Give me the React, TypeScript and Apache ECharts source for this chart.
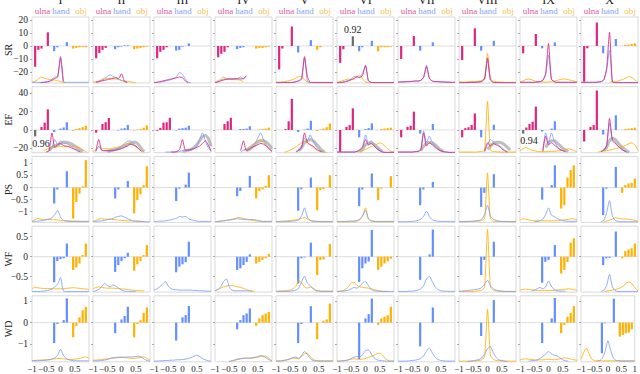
import React, { useEffect, useRef } from 'react';
import * as echarts from 'echarts';

const n = null;
type V = number | null;
type Curve = V[] | null;

const COLUMNS = ['I', 'II', 'III', 'IV', 'V', 'VI', 'VII', 'VIII', 'IX', 'X'];
const ROWS = ['SR', 'EF', 'PS', 'WF', 'WD'];
const GROUPS = ['ulna', 'hand', 'obj'];
const COLORS = ['#DC267F', '#648FFF', '#FFB000'];
const LABEL_COLORS = ['#E2599C', '#86A4F6', '#F6C24E'];
const GRAY = '#6a6a6a';
// bar slots in ninths: ulna -8..-4, hand -2..2, obj 4..8
const BAR_SLOTS = [-8, -7, -6, -5, -4, -2, -1, 0, 1, 2, 4, 5, 6, 7, 8];
const CURVE_X = [-1, -0.9, -0.8, -0.7, -0.6, -0.5, -0.4, -0.3, -0.2, -0.1, 0, 0.1, 0.2, 0.3, 0.4, 0.5, 0.6, 0.7, 0.8, 0.9, 1];
const X_TICKS = [-1, -0.5, 0, 0.5];
const X_TICKS_LAST = [-1, -0.5, 0, 0.5, 1];
const Y_MIN = [-28.5, -24.8, -1.44, -0.885, -1.82];
const Y_MAX = [22.3, 47.2, 1.285, 0.765, 1.25];
const Y_TICKS = [[-20, -10, 0, 10, 20], [-20, 0, 20, 40], [-1, -0.5, 0, 0.5, 1], [-0.5, 0, 0.5], [-1, 0, 1]];

// ---------- bar values (ulna x5, hand x5, obj x5) ----------
const SR_BARS: V[][] = [
  [-16, -3, -2, n, 10.5, -4, -1, n, n, 3, -2, -1.5, -1, -1, -1],
  [-9.5, -5.5, -3, -1.5, n, -2.5, -1, -0.5, 0.5, 0.5, -2.5, -2, -1.5, -1, -0.5],
  [-9.5, -4.5, -3, -1, n, -3.5, -3, -0.5, n, 2, n, n, n, n, n],
  [-8.7, -6, -4.5, -1, n, -2.5, -1.5, -1, n, n, -2, -1.5, -1.5, -1, -0.5],
  [-18, -2, n, n, 15, -5, n, n, n, 4.5, -3, -1, n, n, n],
  [-13, -2.5, n, n, n, -4, -1, n, n, 4, -4, -1, -1, -1, -0.5],
  [-10, n, n, n, 7.7, -3.6, n, n, n, 2.8, n, n, n, n, n],
  [-10.8, n, n, n, 13.6, -3.6, n, n, n, 4, n, n, n, n, n],
  [-5.6, n, n, n, 9.2, -1.8, n, n, n, 2.8, n, n, n, n, n],
  [-27.5, -1.8, n, n, 18, -5.6, n, n, n, 5.4, n, 1, 1, 1.5, 2],
];
const EF_BARS: V[][] = [
  [n, n, 3.4, 8, 22.5, -2.3, n, 1.5, 2.7, 8.4, -1, 1, 2, 3, 4.6],
  [-3, n, 6.5, 8.5, 13, n, -0.5, 1.5, 2, 5.3, -0.5, 0.5, 1, 2.5, 5],
  [-1, 2.3, 8, 8.4, 13.3, -0.5, 1.5, 2, 2.5, 4.6, n, n, n, n, n],
  [n, n, 6.5, 9.5, 13.3, n, 1, 1, 1.5, 4, n, 0.5, 1, 1.5, 2.5],
  [n, n, 1, 9.5, 34, -2.3, n, 0.5, 1.5, 10, -1, 0.5, 1.5, 3, 7],
  [-24, n, 3.4, 5.3, 23.6, -8, n, 1, 2, 7.2, n, 1, 1.5, 2, 2.5],
  [-8, n, 3.4, 4.6, 20, -4, n, n, n, 6.5, n, n, n, n, n],
  [-8, 2, 3, 5.5, 18, -8, n, n, n, 5.7, n, n, n, n, n],
  [n, 2.7, 6.5, 9, 25.5, -1.7, n, n, 1.5, 9.5, n, n, n, n, n],
  [-12.6, n, 3.4, 5.3, 43, -5, n, n, n, 16, n, 1, 1.5, 2, 2.5],
];
const PS_BARS: V[][] = [
  [n, n, n, n, n, -0.66, -0.08, n, n, 0.67, -1.28, -0.6, -0.25, 0.05, 1.13],
  [n, n, n, n, n, -0.45, -0.08, n, n, 0.27, -1.07, -0.52, -0.28, 0.1, 0.88],
  [n, n, n, n, n, -0.56, -0.05, n, 0.12, 0.62, n, n, n, n, n],
  [n, n, n, n, n, -0.36, -0.14, n, n, 0.48, -0.45, -0.15, -0.08, 0.07, 0.51],
  [n, n, n, n, n, -0.96, -0.07, n, n, 0.41, -0.94, -0.11, -0.07, n, 0.51],
  [n, n, n, n, n, -0.77, -0.08, n, n, 0.58, -0.52, -0.05, n, n, 0.47],
  [n, n, n, n, n, -0.73, -0.08, n, n, 0.23, n, n, n, n, n],
  [n, n, n, n, n, -0.8, -0.22, n, n, 0.55, n, n, n, n, n],
  [n, n, n, n, n, -0.5, n, n, 0.1, 0.92, -0.87, -0.73, 0.41, 0.72, 0.92],
  [n, n, n, n, n, -1.14, -0.05, n, n, 0.85, -0.22, 0.1, 0.17, 0.19, 0.37],
];
const WF_BARS: V[][] = [
  [n, n, n, n, n, -0.64, -0.11, -0.06, -0.04, 0.33, -0.33, -0.27, -0.17, 0.04, 0.33],
  [n, n, n, n, n, -0.38, -0.21, -0.11, -0.04, 0.1, -0.35, -0.19, -0.11, 0.04, 0.29],
  [n, n, n, n, n, -0.39, -0.25, -0.19, -0.14, 0.375, n, n, n, n, n],
  [n, n, n, n, n, -0.33, -0.29, -0.21, -0.13, 0.06, -0.17, -0.13, -0.08, -0.04, 0.07],
  [n, n, n, n, n, -0.67, -0.04, -0.02, n, 0.35, -0.46, -0.08, -0.07, n, 0.32],
  [n, n, n, n, n, -0.63, -0.29, -0.17, -0.12, 0.67, -0.33, -0.25, -0.17, -0.12, -0.05],
  [n, n, n, n, n, -0.58, n, n, 0.06, 0.68, n, n, n, n, n],
  [n, n, n, n, n, -0.46, -0.08, n, n, 0.375, n, n, n, n, n],
  [n, n, n, n, n, -0.65, -0.13, -0.08, n, 0.29, -0.42, -0.33, -0.13, 0.35, 0.46],
  [n, n, n, n, n, -0.21, -0.04, -0.03, n, 0.63, -0.04, 0.14, 0.18, 0.21, 0.33],
];
const WD_BARS: V[][] = [
  [n, n, n, n, n, -0.95, -0.06, n, 0.12, 1.13, -0.68, -0.15, 0.25, 0.58, 0.74],
  [n, n, n, n, n, -0.49, n, 0.15, 0.31, 0.74, -0.68, -0.06, 0.12, 0.46, 0.71],
  [n, n, n, n, n, -0.83, n, 0.25, 0.35, 0.78, n, n, n, n, n],
  [n, n, n, n, n, -0.31, 0.12, 0.35, 0.43, 0.66, -0.15, 0.2, 0.35, 0.43, 0.5],
  [n, n, n, n, n, -0.95, -0.06, n, n, 0.77, -0.77, n, 0.09, 0.15, 0.89],
  [n, n, n, n, n, -1.69, n, 0.2, 0.4, 1.12, -0.1, 0.2, 0.28, 0.35, 0.74],
  [n, n, n, n, n, -1.1, n, n, n, 0.71, n, n, n, n, n],
  [n, n, n, n, n, -0.62, n, n, n, 1.05, n, n, n, n, n],
  [n, n, n, n, n, -0.95, n, n, 0.2, 1.15, -0.49, -0.1, 0.28, 0.46, 0.77],
  [n, n, n, n, n, -1.42, -0.03, n, n, 1.12, -0.65, -0.57, -0.49, -0.46, -0.31],
];
const GRAY_BARS = [
  { row: 0, col: 5, slot: -4, value: 7.5, label: '0.92' },
  { row: 1, col: 0, slot: -8, value: -7, label: '0.96' },
  { row: 1, col: 8, slot: -8, value: -4, label: '0.94' },
];

// ---------- density curves (percent of panel height) ----------
const SR_U: Curve[] = [
  [n, n, n, 0.5, 1, 1.5, 2.5, 4, 7, 9, 40, 2, n, n, n, n, n, n, n, n, n],
  [n, 1, 2, 3, 4, 5, 6, 7, 8, 7, 14, 3, 1, n, n, n, n, n, n, n, n],
  [0.5, 1, 2, 3, 4, 5, 6, 7, 8, 9, 8, 3, 0.5, n, n, n, n, n, n, n, n],
  [0.5, 1.5, 3, 4.5, 5.5, 6, 6, 6.5, 6.5, 6, 7, 11, n, n, n, n, n, n, n, n, n],
  [0.5, 0.5, 0.5, 0.5, 0.5, 0.5, 1, 2, 3, 6, 40, 10, 1, 0.5, 0.5, 0.5, 0.5, 0.5, 0.5, 0.5, 0.5],
  [0.5, 0.5, 1, 2, 3, 5, 7, 10, 8, 12, 27, 4, 1, 0.5, 0.5, 0.5, 0.5, 0.5, 0.5, 0.5, 0.5],
  [1, 1.5, 1.5, 2, 2, 2.5, 3, 3, 4, 9, 25, 7, 3, 2, 2, 1.5, 1.5, 1, 1, 1, 1],
  [0.5, 0.5, 0.5, 0.5, 1, 1, 1, 1.5, 2.5, 7, 38, 5, 1, 0.5, 0.5, 0.5, 0.5, 0.5, 0.5, 0.5, 0.5],
  [1, 1, 1, 1, 1, 1, 1.5, 2, 4, 15, 60, 6, 2, 1, 1, 1, 1, 1, 1, 1, 1],
  [1, 1, 1, 1, 1, 1, 1.5, 2, 5, 22, 77, 2, 0.5, 0.5, 0.5, 0.5, 0.5, 0.5, 0.5, 0.5, 0.5],
];
const SR_H: Curve[] = [
  [1, 1, 1, 1, 1, 1.5, 2, 6, 9, 10, 37, 2, 1, 1, 1, 1, 1, 1, 1, 1, 1],
  [n, 1, 2, 4, 6, 10, 12.5, 10, 8, 6, 4, 2, 1, n, n, n, n, n, n, n, n],
  [0.5, 1, 1.5, 2, 3, 4, 5, 7, 10, 16, 13, 6, 1, 0.5, n, n, n, n, n, n, n],
  [1, 2, 4, 6, 6, 6.5, 6, 6, 7, 9, 6, 10, n, n, n, n, n, n, n, n, n],
  [1, 1, 1, 1, 1, 1, 1, 2, 4, 8, 38, 3, 1, 1, 1, 1, 1, 1, 1, 1, 1],
  [0.5, 1, 1.5, 2.5, 4, 6, 10, 8, 9, 15, 26, 3, 1, 0.5, 0.5, 0.5, 0.5, 0.5, 0.5, 0.5, 0.5],
  [2, 2, 2, 2, 2.5, 2.5, 3, 3, 4, 8, 27, 8, 3, 2.5, 2, 2, 2, 1.5, 1.5, 1, 1],
  [0.5, 0.5, 0.5, 0.5, 1, 1, 1, 1.5, 2, 6, 35, 5, 1, 0.5, 0.5, 0.5, 0.5, 0.5, 0.5, 0.5, 0.5],
  [1, 1, 1, 1, 1, 1, 1.5, 2, 4, 12, 42, 6, 2, 1, 1, 1, 1, 1, 1, 1, 1],
  [1, 1, 1, 1, 1, 1, 1.5, 2, 4, 20, 50, 2, 0.5, 0.5, 0.5, 0.5, 0.5, 0.5, 0.5, 0.5, 0.5],
];
const SR_O: Curve[] = [
  [1, 2.5, 5, 9, 8, 6.5, 5.5, 5, 4.5, 3.5, 2, 1, 0.5, n, n, n, n, n, n, n, n],
  [1, 2, 3, 5, 7.5, 7, 6.5, 6.5, 6, 5, 4, 3, 2.5, 2, 1, 0.5, n, n, n, n, n],
  null,
  [1, 3, 6, 9, 7, 6, 5.5, 5, 5, 4, 2, n, n, n, n, n, n, n, n, n, n],
  [1, 1, 1.5, 2, 3, 4, 5.5, 7.5, 9.5, 10, 5, 1.5, 0.5, 0.5, 0.5, 0.5, 0.5, 0.5, 0.5, 0.5, 0.5],
  [1, 2, 3.5, 5, 6, 5, 5.5, 10, 12, 6, 1.5, 0.5, 0.5, 0.5, 0.5, 0.5, 0.5, 0.5, 0.5, 0.5, 0.5],
  null,
  [1.5, 1.5, 1.5, 2, 2, 2, 2.5, 3, 4, 8, 45, 8, 3, 2, 1.5, 1.5, 1, 1, 1, 1, 1],
  [2, 3, 5, 6, 5, 3.5, 2.5, 2, 1.5, 1.5, 1.5, 2, 3, 4, 5, 6, 6, 5, 4, 3, 2],
  [n, n, n, n, n, n, n, n, n, n, 1, 1.5, 2, 3, 4.5, 6, 8, 10, 8, 4, 1],
];
const EF_U: Curve[] = [
  [n, n, n, n, n, 1, 3, 30, 8, 12, 14, 11, 10, 9, 7, 5, 3, 1, n, n, n],
  [n, 2, 20, 4, 3, 3, 3, 3, 4, 5, 6, 8, 10, 13, 12, 10, 6, 2, n, n, n],
  [n, n, n, n, n, n, 1, 1, 2, 5, 20, 4, 4, 5, 6, 8, 10, 14, 18, 12, 3],
  [n, n, n, n, n, n, n, n, n, 3, 18, 3, 5, 8, 10, 12, 14, 13, 10, 6, 2],
  [n, n, n, n, n, n, n, 2, 4, 8, 30, 15, 12, 10, 6, 3, 1, n, n, n, n],
  [1, 1, 1, 1, 1, 1, 1, 2, 4, 8, 20, 12, 14, 10, 6, 3, 1, 0.5, 0.5, 0.5, 0.5],
  [1, 1, 1, 1, 1, 1, 1.5, 2, 4, 30, 10, 15, 12, 8, 5, 3, 1.5, 1, 0.5, 0.5, 0.5],
  [n, n, n, n, n, n, n, n, n, 2, 15, 10, 14, 12, 10, 6, 3, 1, n, n, n],
  [n, n, n, n, n, n, n, n, 2, 25, 12, 15, 12, 8, 5, 3, 1.5, n, n, n, n],
  [n, n, n, n, n, n, n, 2, 4, 10, 52, 20, 15, 10, 6, 3, 1, n, n, n, n],
];
const EF_H: Curve[] = [
  [n, n, n, n, n, 1, 3, 8, 20, 12, 18, 15, 14, 12, 9, 6, 3, 1, n, n, n],
  [n, 2, 10, 4, 3, 3, 3, 4, 5, 7, 10, 14, 17, 18, 15, 11, 6, 2, n, n, n],
  [n, n, n, n, 1, 1, 1, 1, 1, 2, 3, 3, 3, 4, 6, 10, 20, 30, 18, 8, 2],
  [n, n, n, n, n, n, n, n, n, 1, 4, 5, 7, 10, 14, 22, 30, 20, 12, 6, 2],
  [n, n, n, n, n, n, n, 1, 3, 8, 22, 18, 27, 18, 10, 5, 2, 1, n, n, n],
  [1, 1, 1, 1, 1, 1, 1, 2, 5, 10, 27, 15, 18, 12, 6, 3, 1, 0.5, 0.5, 0.5, 0.5],
  [1, 1, 1, 1, 1, 1, 1.5, 2, 5, 33, 15, 25, 16, 10, 6, 3, 1.5, 1, 0.5, 0.5, 0.5],
  [n, n, n, n, n, n, n, n, n, 2, 12, 20, 17, 14, 11, 8, 4, 1.5, n, n, n],
  [n, n, n, n, n, n, n, n, 3, 30, 15, 30, 18, 10, 5, 3, 1.5, n, n, n, n],
  [n, n, n, n, n, n, n, 2, 4, 12, 45, 18, 14, 10, 6, 3, 1, n, n, n, n],
];
const EF_O: Curve[] = [
  [n, n, n, n, 3, 5, 7, 8, 9, 9, 9, 9, 9, 10, 10, 10, 9, 7, 4, 1, n],
  [1, 5, 9, 7, 6, 6, 6, 7, 8, 9, 10, 12, 14, 14, 12, 9, 6, 3, 1, n, n],
  null,
  [n, n, n, n, n, n, n, n, n, n, 3, 6, 9, 12, 15, 18, 20, 16, 10, 5, 2],
  [n, n, n, 1, 2, 4, 6, 9, 12, 15, 18, 16, 12, 8, 5, 3, 2, 1, 0.5, n, n],
  [n, n, n, n, n, n, n, 1, 2, 3, 5, 7, 9, 11, 13, 15, 13, 9, 5, 2, 1],
  null,
  [1, 1, 1, 1, 1, 1, 1, 1.5, 2, 4, 78, 4, 2, 1.5, 1, 1, 1, 1, 1, 1, 1],
  [3, 6, 8, 6, 4, 3, 2, 1.5, 1.5, 1.5, 2, 2, 2, 2.5, 3, 4, 5, 6, 5, 3, 1],
  [n, n, n, n, n, n, 1, 2, 2.5, 3, 4, 5, 6, 7, 8, 10, 12, 14, 15, 11, 4],
];
const EF_G: Curve[] = [
  [n, n, n, n, n, n, 3, 8, 10, 12, 14, 16, 16, 15, 13, 10, 7, 4, 2, n, n],
  [n, n, n, n, n, 2, 3, 4, 5, 6, 8, 10, 12, 14, 16, 16, 12, 6, 2, n, n],
  [n, n, n, n, n, n, n, n, n, n, 2, 3, 4, 5, 8, 12, 18, 24, 26, 22, 10],
  [n, n, n, n, n, n, n, n, n, n, n, 3, 5, 8, 12, 16, 18, 18, 16, 12, 6],
  [n, n, n, n, n, n, n, n, 3, 8, 15, 18, 20, 18, 14, 9, 4, 2, n, n, n],
  [n, n, n, n, n, n, n, n, 2, 5, 12, 14, 15, 13, 9, 5, 2, n, n, n, n],
  [n, n, n, n, n, n, n, n, 3, 10, 14, 16, 15, 12, 8, 4, 2, n, n, n, n],
  [n, n, n, n, n, n, n, n, n, n, 5, 10, 14, 16, 16, 15, 12, 8, 4, n, n],
  [n, n, n, n, n, n, n, n, n, 8, 15, 18, 18, 15, 11, 7, 4, 2, n, n, n],
  [n, n, n, n, n, n, n, n, 3, 8, 18, 22, 20, 15, 10, 6, 3, 1, n, n, n],
];
const PS_H: Curve[] = [
  [1.5, 1.5, 2, 2.5, 3, 4, 5, 7, 12, 18, 8, 3, 2, 1.5, 1.5, 1.5, 1.5, 1.5, 1.5, 1.5, 1.5],
  [1, 1.5, 2, 2.5, 3, 4, 5, 6, 8, 9, 10, 8, 6, 4, 2.5, 2, 1.5, 1.5, 1, 1, 1],
  [1.5, 1.5, 2, 2, 2.5, 3, 4, 5, 6.5, 9, 8, 9, 6, 4, 3, 2, 1.5, 1.5, 1.5, 1.5, 1.5],
  [1, 1.5, 2, 2.5, 3, 3.5, 4, 5, 5.5, 5, 4.5, 4, 4, 4.5, 4, 3, 2, 1.5, 1.5, 1.5, 1.5],
  [1, 1, 1, 1, 1.5, 1.5, 2, 2.5, 4, 10, 22, 8, 3, 2, 1.5, 1.5, 1, 1, 1, 1, 1],
  [1.5, 1.5, 1.5, 1.5, 2, 2, 2, 3, 5, 10, 18, 6, 2.5, 2, 1.5, 1.5, 1.5, 1.5, 1.5, 1.5, 1.5],
  [1, 1, 1, 1, 1.5, 1.5, 2, 3, 5, 9, 17, 9, 4, 2.5, 2, 1.5, 1.5, 1.5, 1.5, 1.5, 1.5],
  [1, 1, 1, 1.5, 1.5, 2, 2.5, 3, 5, 12, 26, 10, 5, 3, 2, 1.5, 1.5, 1, 1, 1, 1],
  [n, n, n, n, n, 1, 1.5, 2.5, 5, 12, 22, 11, 9, 6, 4, 2.5, 2, 1.5, 1.5, 1.5, 1.5],
  [n, n, n, n, n, n, n, 1, 3, 15, 33, 10, 3, 1.5, 1, 1, 1, 1, 1, 1, 1],
];
const PS_O: Curve[] = [
  [2, 4, 6, 5, 4.5, 4.5, 4.5, 4, 4, 3.5, 3, 2.5, 2.5, 2.5, 2, 2, 2, 1.5, 1.5, 1.5, 1.5],
  [2, 3, 5, 6, 5, 5, 5, 4.5, 4, 3.5, 3, 3, 2.5, 2.5, 2, 2, 2, 1.5, 1.5, n, n],
  null,
  [1, 1.5, 2, 2.5, 3, 4, 5, 6, 7.5, 7, 6, 5, 4, 3, 2.5, 2, 1.5, 1.5, 1.5, 1.5, 1.5],
  [1.5, 1.5, 2, 2, 2.5, 3, 3.5, 4, 5, 6, 7.5, 5, 3, 2, 1.5, 1.5, 1.5, 1.5, 1.5, 1.5, 1.5],
  [1, 1, 1, 1, 1, 1, 1.5, 2, 3.5, 10, 22, 5, 2, 1.5, 1, 1, 1, 1, 1, 1, 1],
  null,
  [1.5, 1.5, 1.5, 1.5, 1.5, 1.5, 2, 2, 3, 6, 75, 6, 2, 1.5, 1.5, 1.5, 1.5, 1.5, 1.5, 1.5, 1.5],
  [4, 5.5, 5, 4, 3, 2.5, 2.5, 2.5, 2.5, 2.5, 2.5, 2.5, 2.5, 2.5, 3, 3.5, 4, 4.5, 5.5, 5, 4],
  [n, n, n, n, n, n, n, n, 1, 2, 3.5, 5, 7, 6.5, 5.5, 5, 5, 4.5, 4, 3, 1.5],
];
const WF_H: Curve[] = [
  [1, 1, 1, 1, 1.5, 2, 3, 5, 8, 12, 22, 2, 1, 1, 1, 1, 1, 1, 1, 1, 1],
  [1, 2, 4, 8, 13, 10, 8, 11, 9, 6, 3, 1.5, 1, 1, 1, 1, n, n, n, n, n],
  [3, 5, 8, 12, 16, 9, 5, 4, 3.5, 3, 3, 3, 3, 3, 2.5, 2.5, 2, 2, 1.5, 1.5, 1],
  [2, 4, 8, 16, 20, 8, 3, 2, 2, 2, 2, 2, 2, 1.5, n, n, n, n, n, n, n],
  [1, 1, 1, 1, 1, 1.5, 2, 3, 6, 16, 24, 14, 10, 5, 2, 1.5, 1, 1, 1, 1, 1],
  [1, 1, 1.5, 2, 3, 5, 7, 6, 9, 14, 16, 10, 4, 2, 1.5, 1, 1, 1, 1, 1, 1],
  [1, 1, 1, 1, 1.5, 1.5, 2, 3, 5, 10, 20, 24, 16, 8, 4, 2, 1.5, 1.5, 1, 1, 1],
  [1, 1.5, 2, 2.5, 3, 3.5, 4, 5, 7, 12, 18, 10, 5, 3, 2, 1.5, 1, 1, 1, 1, 1],
  [n, n, n, n, 1.5, 3, 5, 7, 5, 8, 17, 9, 4, 2, 1.5, 1.5, 1, n, n, n, n],
  [n, n, n, n, n, n, n, 1, 3, 10, 27, 8, 2, 1, 1, 1, 1, 1, 1, 1, 1],
];
const WF_O: Curve[] = [
  [5, 7.5, 6.5, 6, 5.5, 5.5, 5.5, 5, 5, 5, 5, 5, 5.5, 6, 6.5, 6.5, 6, 5.5, 5, 4.5, 4],
  [5, 7, 8, 7, 6.5, 6, 6, 6, 5.5, 5.5, 5, 4.5, 4, 3.5, 3, 2.5, 2, 2, 2, n, n],
  null,
  [2, 4, 6, 8, 9, 10, 10, 9, 8, 7, 5.5, 4, 2.5, 1.5, 1, n, n, n, n, n, n],
  [1, 1.5, 2, 2, 2.5, 3, 5, 9, 18, 14, 8, 6, 8, 6, 3, 2, 1.5, 1.5, 1.5, 1.5, 1.5],
  [1, 1.5, 2, 4, 8, 14, 15, 10, 8, 7, 6.5, 6, 5, 4, 3, 2, 1.5, 1, 1, n, n],
  null,
  [1, 1, 1, 1, 1, 1, 1.5, 2, 3, 8, 95, 8, 3, 2, 1.5, 1, 1, 1, 1, 1, 1],
  [3, 4, 4.5, 4, 3.5, 3, 2.5, 2.5, 2.5, 2.5, 2.5, 2.5, 2.5, 3, 3.5, 4, 4.5, 5, 4.5, 3.5, 2.5],
  [n, n, n, n, n, n, n, n, 1, 1.5, 2, 3, 4, 5, 7, 10, 14, 15.5, 12, 6, 2],
];
const WD_H: Curve[] = [
  [1.5, 1.5, 1.5, 2, 2, 2.5, 3, 4, 6, 10, 19, 10, 5, 3, 2, 1.5, 1.5, 1.5, 1.5, 1.5, 1.5],
  [1, 1.5, 1.5, 2, 2.5, 3.5, 5, 6, 6.5, 7, 7, 7, 7, 7.5, 7.5, 8, 8.5, 7, 4, 2, 1],
  [1, 1, 1.5, 1.5, 2, 2, 2.5, 2.5, 3, 3, 3.5, 4, 5, 6.5, 8.5, 10, 8, 5, 3, 1.5, 1],
  [n, n, n, n, n, 0.5, 1.5, 2.5, 3.5, 4.5, 5, 5.5, 5.5, 6, 7, 8, 9.5, 8, 6, 3, 1],
  [1, 1, 1.5, 2, 3, 4.5, 6.5, 7, 5, 10, 15.5, 11, 5, 2, 1.5, 1, 1, 1, 1, 1, 1],
  [1, 1, 1.5, 2, 3, 5, 7, 8, 7, 11, 17, 18, 12, 6, 3, 2, 1.5, 1, 1, 1, 1],
  [1, 1, 1, 1, 1.5, 2, 2.5, 3.5, 5, 9, 16, 21, 14, 7, 3.5, 2, 1.5, 1, 1, 1, 1],
  [n, n, n, 0.5, 1, 1.5, 2.5, 3.5, 6, 12, 20, 23, 14, 7, 3, 2, 1, 0.5, n, n, n],
  [n, n, n, 1, 1.5, 2, 3, 5, 8, 12, 15.5, 12, 10, 9, 6, 3, 1.5, 1, n, n, n],
  [n, n, n, n, n, n, 1, 2, 6, 16, 32, 18, 6, 2, 1.5, 1, 1, 1, 1, 1, 1],
];
const WD_O: Curve[] = [
  [2, 2, 2.5, 2.5, 3, 3, 3.5, 4, 4.5, 5, 5, 4.5, 4, 3.5, 3.5, 4, 4.5, 5.5, 6.5, 7.5, 5],
  [2.5, 2.5, 3, 3.5, 4, 4.5, 5, 5.5, 6, 6.5, 6.5, 6.5, 6, 5.5, 5, 5.5, 6, 7, 7.5, 5, 2.5],
  null,
  [n, n, n, n, n, 0.5, 1.5, 3, 4.5, 5, 5.5, 5.5, 5.5, 5.5, 6, 7, 8, 9, 8.5, 5, 1.5],
  [1.5, 1.5, 2, 2.5, 3.5, 4.5, 5.5, 5, 4.5, 8, 12, 13, 8, 4, 2, 1.5, 1.5, 1.5, 1.5, 1.5, 1.5],
  [1, 1, 1.5, 2, 3, 4, 4.5, 4, 3.5, 4, 5, 6.5, 8, 10, 12, 13, 10, 5, 2, 1, 1],
  null,
  [1, 1, 1, 1, 1, 1.5, 1.5, 2, 3, 8, 80, 10, 4, 2, 1.5, 1.5, 1, 1, 1, 1, 1],
  [3, 4, 4.5, 4, 3.5, 3, 2.5, 3, 3, 3.5, 4, 3.5, 3, 3.5, 4.5, 5.5, 6, 5, 4, 3, 2],
  [4, 14, 21, 12, 4, 2, 1.5, 1.5, 1.5, 1.5, 1.5, 1.5, 1.5, 1.5, 1.5, 1.5, 1.5, 1.5, 1.5, 1.5, 1.5],
];

const BARS = [SR_BARS, EF_BARS, PS_BARS, WF_BARS, WD_BARS];
const ULNA_CURVES: (Curve[] | null)[] = [SR_U, EF_U, null, null, null];
const HAND_CURVES: Curve[][] = [SR_H, EF_H, PS_H, WF_H, WD_H];
const OBJ_CURVES: Curve[][] = [SR_O, EF_O, PS_O, WF_O, WD_O];
const GRAY_CURVES: (Curve[] | null)[] = [null, EF_G, null, null, null];

// ---------- layout ----------
const FONT = 'Liberation Serif';
const PANEL_LEFT = 32;
const PANEL_PITCH_X = 61;
const PANEL_W = 57;
const PANEL_TOP = 17;
const PANEL_PITCH_Y = 69.7;
const PANEL_H = 66;

const fmt = (v: number) => (v < 0 ? '\u2212' : '') + String(Math.abs(v));

function buildOption() {
  const grid: any[] = [];
  const xAxis: any[] = [];
  const yAxis: any[] = [];
  const series: any[] = [];
  const graphic: any[] = [];

  ROWS.forEach((rowName, r) => {
    COLUMNS.forEach((colName, c) => {
      const gi = r * COLUMNS.length + c;
      const left = PANEL_LEFT + PANEL_PITCH_X * c;
      const top = PANEL_TOP + PANEL_PITCH_Y * r;
      grid.push({
        left, top, width: PANEL_W, height: PANEL_H,
        show: true, borderColor: '#d9d9d9', borderWidth: 1, backgroundColor: '#fff',
      });
      xAxis.push({
        type: 'value', gridIndex: gi, min: -1, max: 1, position: 'bottom',
        axisLine: { show: false, onZero: false }, axisTick: { show: false }, splitLine: { show: false },
        axisLabel: r === ROWS.length - 1
          ? {
            show: true, customValues: c === COLUMNS.length - 1 ? X_TICKS_LAST : X_TICKS, formatter: fmt,
            fontFamily: FONT, fontSize: 9, color: '#222', margin: 3, showMinLabel: true, showMaxLabel: true,
          }
          : { show: false },
      });
      yAxis.push({
        type: 'value', gridIndex: gi, min: Y_MIN[r], max: Y_MAX[r], position: 'left',
        axisLine: { show: false, onZero: false }, splitLine: { show: false },
        axisTick: { show: true, customValues: Y_TICKS[r], length: 2, lineStyle: { color: '#aaa', width: 1 } },
        axisLabel: c === 0
          ? { show: true, customValues: Y_TICKS[r], formatter: fmt, fontFamily: FONT, fontSize: 9.5, color: '#222', margin: 4 }
          : { show: false },
      });
      yAxis.push({
        type: 'value', gridIndex: gi, min: 0, max: 100, show: false, position: 'right',
        axisLine: { show: false, onZero: false }, axisTick: { show: false }, axisLabel: { show: false }, splitLine: { show: false },
      });

      // zero reference line
      series.push({
        type: 'line', xAxisIndex: gi, yAxisIndex: 2 * gi, data: [[-1, 0], [1, 0]],
        showSymbol: false, symbol: 'none', silent: true, z: 1,
        lineStyle: { color: '#dedede', width: 1 },
      });

      // bars
      const items: any[] = [];
      BARS[r][c].forEach((v, i) => {
        if (v == null) return;
        const g = i < 5 ? 0 : i < 10 ? 1 : 2;
        items.push({ value: [BAR_SLOTS[i] / 9, v], itemStyle: { color: COLORS[g] } });
      });
      GRAY_BARS.filter((b) => b.row === r && b.col === c).forEach((b) => {
        items.push({
          value: [b.slot / 9, b.value],
          itemStyle: { color: GRAY },
          label: b.value > 0
            ? { show: true, position: 'top', distance: 2, formatter: b.label, fontFamily: FONT, fontSize: 10, color: '#222' }
            : { show: true, position: 'bottom', distance: 2, align: 'left', offset: [-3, 0], formatter: b.label, fontFamily: FONT, fontSize: 10, color: '#222' },
        });
      });
      series.push({
        type: 'bar', xAxisIndex: gi, yAxisIndex: 2 * gi, barWidth: 2.2, data: items, z: 2, silent: true,
      });

      // curves
      const addCurve = (arr: Curve | undefined, color: string, width: number, opacity: number, z: number) => {
        if (!arr) return;
        const data: number[][] = [];
        arr.forEach((v, i) => { if (v != null) data.push([CURVE_X[i], v]); });
        series.push({
          type: 'line', xAxisIndex: gi, yAxisIndex: 2 * gi + 1, data, showSymbol: false, symbol: 'none',
          smooth: 0.2, silent: true, z, lineStyle: { color, width, opacity },
        });
      };
      const gc = GRAY_CURVES[r];
      if (gc) addCurve(gc[c], '#8a8a8a', 3, 0.55, 3);
      addCurve(OBJ_CURVES[r][c], COLORS[2], 1, 0.85, 4);
      addCurve(HAND_CURVES[r][c], '#7d9ff9', 1, 0.85, 5);
      const uc = ULNA_CURVES[r];
      if (uc) addCurve(uc[c], COLORS[0], 1, 0.85, 6);

      // texts
      if (r === 0) {
        graphic.push({
          type: 'text', x: left + PANEL_W / 2, y: 6,
          style: { text: colName, fontFamily: FONT, fontSize: 12, fill: '#222', align: 'center', verticalAlign: 'bottom' },
        });
        const offs = [10.5, 29, 49];
        GROUPS.forEach((gname, k) => {
          graphic.push({
            type: 'text', x: left + offs[k], y: 15.5,
            style: { text: gname, fontFamily: FONT, fontSize: 9, fill: LABEL_COLORS[k], align: 'center', verticalAlign: 'bottom' },
          });
        });
      }
      if (c === 0) {
        graphic.push({
          type: 'text', x: 8, y: top + PANEL_H / 2, rotation: Math.PI / 2,
          style: { text: rowName, fontFamily: FONT, fontSize: 10, fill: '#222', align: 'center', verticalAlign: 'middle' },
        });
      }
    });
  });

  return {
    animation: false,
    backgroundColor: '#ffffff',
    textStyle: { fontFamily: FONT },
    grid, xAxis, yAxis, series, graphic,
  };
}

export default function App() {
  const ref = useRef<HTMLDivElement>(null);
  useEffect(() => {
    if (!ref.current) return;
    const chart = echarts.init(ref.current, null, { renderer: 'svg' });
    chart.setOption(buildOption() as any);
    return () => chart.dispose();
  }, []);
  return <div ref={ref} style={{ position: 'absolute', left: 0, top: 0, width: 640, height: 374 }} />;
}
